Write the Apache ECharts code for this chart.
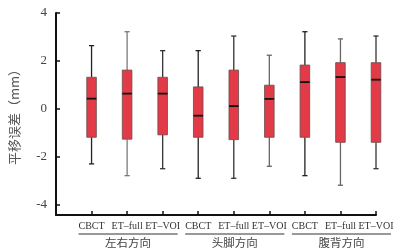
<!DOCTYPE html>
<html><head><meta charset="utf-8">
<script src="https://cdn.jsdelivr.net/npm/echarts@6/dist/echarts.min.js"></script>
<style>html,body{margin:0;padding:0;background:#fff}#c{width:401px;height:251px}</style>
</head><body><div id="c"></div>
<script>
const categories = ['', 'CBCT', 'ET–full', 'ET–VOI', 'CBCT', 'ET–full', 'ET–VOI', 'CBCT', 'ET–full', 'ET–VOI'];
const groups = ['左右方向', '头脚方向', '腹背方向'];
const groupStart = [1, 4, 7];
const groupEnd = [3, 6, 9];
const lows =    [-2.29, -2.78, -2.49, -2.89, -2.89, -2.39, -2.78, -3.18, -2.49];
const q1s =     [-1.18, -1.26, -1.08, -1.18, -1.28, -1.18, -1.18, -1.39, -1.39];
const medians = [0.43, 0.64, 0.64, -0.28, 0.12, 0.42, 1.12, 1.33, 1.22];
const q3s =     [1.32, 1.62, 1.32, 0.92, 1.62, 0.99, 1.83, 1.93, 1.93];
const highs =   [2.64, 3.22, 2.43, 2.43, 3.04, 2.24, 3.22, 2.92, 3.04];
const whiskerColors = ['#222', '#7a7a7a', '#333', '#222', '#333', '#666', '#222', '#666', '#333'];
const yTicks = [-4, -2, 0, 2, 4];

const data = lows.map((l, i) => [i + 1, l, q1s[i], medians[i], q3s[i], highs[i]]);

const chart = echarts.init(document.getElementById('c'), null, {renderer: 'canvas'});
const serif = '"Liberation Serif", "DejaVu Serif", serif';
const option = {
  animation: false,
  grid: {left: 52, right: 25, top: 13, bottom: 36},
  xAxis: {
    type: 'category', data: categories, boundaryGap: false,
    axisLine: {onZero: false, lineStyle: {color: '#111', width: 2}},
    axisTick: {inside: true, length: 4, lineStyle: {color: '#111', width: 1.5}, interval: (i) => i > 0},
    axisLabel: {fontFamily: serif, fontSize: 10, color: '#333', margin: 6, interval: 0},
    splitLine: {show: false}
  },
  yAxis: {
    type: 'value', min: -4.42, max: 4,
    name: '平移误差（mm）', nameLocation: 'middle', nameGap: 35,
    nameTextStyle: {fontFamily: '"Noto Sans CJK SC"', fontSize: 13, color: '#555'},
    axisLine: {show: true, onZero: false, lineStyle: {color: '#111', width: 2}},
    axisTick: {show: true, inside: true, length: 4, customValues: yTicks, lineStyle: {color: '#111', width: 1.5}},
    axisLabel: {fontFamily: serif, fontSize: 13, color: '#444', margin: 9, customValues: yTicks},
    splitLine: {show: false}
  },
  series: [{
    type: 'custom',
    data: data,
    encode: {x: 0, y: [1, 2, 3, 4, 5]},
    renderItem: function (params, api) {
      const x = api.value(0);
      const pL = api.coord([x, api.value(1)]);
      const pQ1 = api.coord([x, api.value(2)]);
      const pM = api.coord([x, api.value(3)]);
      const pQ3 = api.coord([x, api.value(4)]);
      const pH = api.coord([x, api.value(5)]);
      const cx = pL[0];
      const hw = 4.8, cap = 2.6;
      const wc = whiskerColors[params.dataIndex];
      return {
        type: 'group',
        children: [
          {type: 'line', shape: {x1: cx, y1: pH[1], x2: cx, y2: pQ3[1]}, style: {stroke: wc, lineWidth: 1.3}},
          {type: 'line', shape: {x1: cx, y1: pQ1[1], x2: cx, y2: pL[1]}, style: {stroke: wc, lineWidth: 1.3}},
          {type: 'line', shape: {x1: cx - cap, y1: pH[1], x2: cx + cap, y2: pH[1]}, style: {stroke: wc, lineWidth: 1.3}},
          {type: 'line', shape: {x1: cx - cap, y1: pL[1], x2: cx + cap, y2: pL[1]}, style: {stroke: wc, lineWidth: 1.3}},
          {type: 'rect', shape: {x: cx - hw, y: pQ3[1], width: hw * 2, height: pQ1[1] - pQ3[1]},
           style: {fill: '#e33a48', stroke: '#6a4a4a', lineWidth: 0.8}},
          {type: 'line', shape: {x1: cx - hw, y1: pM[1], x2: cx + hw, y2: pM[1]}, style: {stroke: '#111', lineWidth: 1.8}}
        ]
      };
    }
  }]
};
chart.setOption(option);

const graphics = [];
groups.forEach((g, i) => {
  const a = chart.convertToPixel({xAxisIndex: 0}, groupStart[i]);
  const b = chart.convertToPixel({xAxisIndex: 0}, groupEnd[i]);
  const base = chart.convertToPixel({yAxisIndex: 0}, -4.42);
  const x1 = a - 13, x2 = b + 15;
  graphics.push({type: 'line', shape: {x1: x1, y1: base + 19, x2: x2, y2: base + 19}, style: {stroke: '#333', lineWidth: 1}});
  graphics.push({type: 'text', x: (x1 + x2) / 2, y: base + 28,
    style: {text: g, fontFamily: '"Noto Sans CJK SC"', fontSize: 11.5, fill: '#444', align: 'center', verticalAlign: 'middle'}});
});
chart.setOption({graphic: graphics});
</script>
</body></html>
